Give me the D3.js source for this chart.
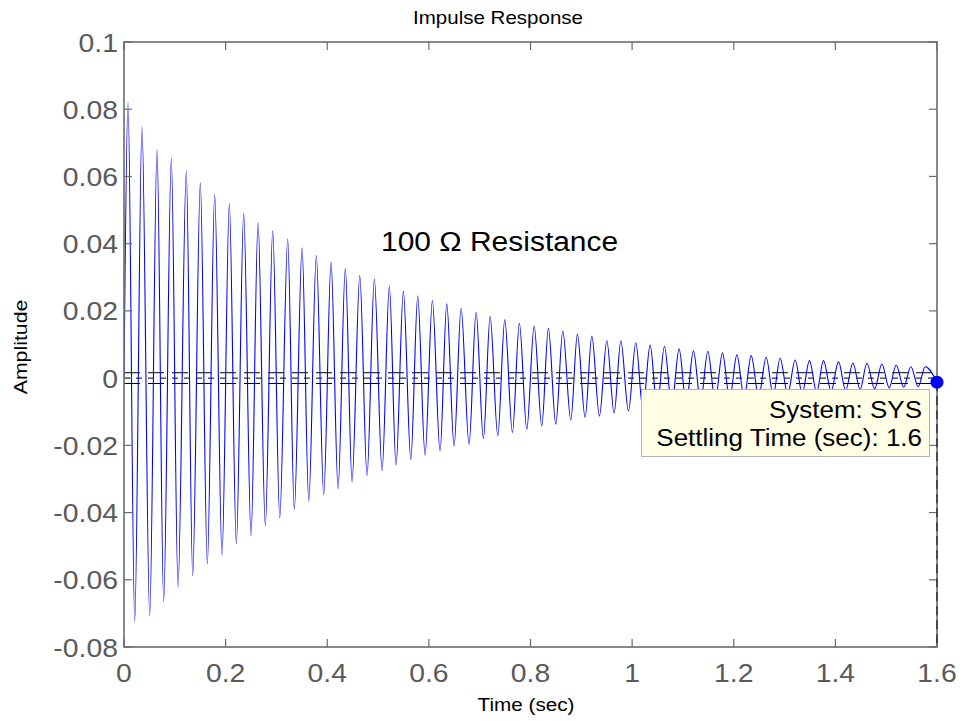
<!DOCTYPE html>
<html><head><meta charset="utf-8">
<script src="https://cdn.jsdelivr.net/npm/d3@7"></script>
<style>
body{margin:0;background:#fff}
text{font-family:Arial,"Liberation Sans",sans-serif}
</style>
</head><body>
<svg id="c" width="963" height="721"></svg>
<script>
// ---- data ----
const peakT = [0.0079,0.0354,0.0650,0.0931,0.1226,0.1502,0.1785,0.2073,0.2356,0.2638,
  0.2927,0.3222,0.3504,0.3785,0.4075,0.4356,0.4640,0.4927,0.5222,0.5498,
  0.5781,0.6069,0.6352,0.6634,0.6929,0.7205,0.7494,0.7781,0.8071,0.8352,
  0.8636,0.8923,0.9207,0.9502,0.9778,1.0073,1.0354,1.0636,1.0925,1.1207,
  1.1490,1.1778,1.2061,1.2343,1.2638,1.2913,1.3209,1.3490,1.3766,1.4061,
  1.4344,1.4620,1.4915,1.5197,1.5486,1.5768];
const peakV = [0.0820,0.0748,0.0679,0.0654,0.0616,0.0581,0.0546,0.0519,0.0490,0.0463,
  0.0438,0.0413,0.0388,0.0365,0.0345,0.0327,0.0305,0.0295,0.0273,0.0258,
  0.0244,0.0231,0.0221,0.0208,0.0196,0.0184,0.0174,0.0163,0.0155,0.0148,
  0.0140,0.0131,0.0125,0.0111,0.0111,0.0105,0.0098,0.0095,0.0087,0.0081,
  0.0080,0.0075,0.0069,0.0067,0.0062,0.0059,0.0054,0.0052,0.0052,0.0049,
  0.0045,0.0044,0.0042,0.0039,0.0034,0.0034];
const troughT = [0.0211,0.0506,0.0781,0.1063,0.1352,0.1640,0.1929,0.2211,0.2500,0.2781,
  0.3065,0.3352,0.3636,0.3931,0.4213,0.4488,0.4783,0.5079,0.5354,0.5644,
  0.5925,0.6220,0.6496,0.6791,0.7073,0.7356,0.7644,0.7927,0.8222,0.8498,
  0.8793,0.9075,0.9356,0.9646,0.9927,1.0211,1.0492,1.0778,1.1063,1.1348,
  1.1634,1.1919,1.2205,1.2490,1.2776,1.3061,1.3346,1.3632,1.3917,1.4203,
  1.4488,1.4774,1.5059,1.5344,1.5630];
const troughV = [-0.0724,-0.0707,-0.0665,-0.0622,-0.0588,-0.0553,-0.0527,-0.0493,-0.0469,-0.0439,
  -0.0416,-0.0391,-0.0366,-0.0346,-0.0329,-0.0309,-0.0290,-0.0275,-0.0259,-0.0242,
  -0.0229,-0.0217,-0.0202,-0.0197,-0.0180,-0.0172,-0.0162,-0.0152,-0.0142,-0.0137,
  -0.0124,-0.0117,-0.0113,-0.0104,-0.0098,-0.0092,-0.0086,-0.0081,-0.0076,-0.0071,
  -0.0067,-0.0062,-0.0058,-0.0055,-0.0051,-0.0048,-0.0045,-0.0042,-0.0039,-0.0037,
  -0.0034,-0.0032,-0.0029,-0.0027,-0.0025];
const startPoint = [0, 0];
const endPoint = [1.6, -0.0012];
const xTickValues = [0,0.2,0.4,0.6,0.8,1,1.2,1.4,1.6];
const xTickLabels = ["0","0.2","0.4","0.6","0.8","1","1.2","1.4","1.6"];
const yTickValues = [-0.08,-0.06,-0.04,-0.02,0,0.02,0.04,0.06,0.08,0.1];
const yTickLabels = ["-0.08","-0.06","-0.04","-0.02","0","0.02","0.04","0.06","0.08","0.1"];
const settleLevels = [0.0016, 0, -0.0016];
const settlingTime = 1.6;
const titleText = "Impulse Response";
const xLabel = "Time (sec)";
const yLabel = "Amplitude";
const annotation = "100 \u03A9 Resistance";
const tipLines = ["System: SYS", "Settling Time (sec): 1.6"];

// ---- drawing ----
const svg = d3.select("#c");
const L = 124, R = 937, T = 42, B = 647;
const x = d3.scaleLinear().domain([0, 1.6]).range([L, R]);
const y = d3.scaleLinear().domain([-0.08, 0.1]).range([B, T]);

svg.append("rect").attr("width", 963).attr("height", 721).attr("fill", "#fff");
svg.append("defs").append("clipPath").attr("id", "clip")
  .append("rect").attr("x", L).attr("y", T).attr("width", R - L).attr("height", B - T);

function txt(px, py, s, size, sx, anchor, color, rot) {
  const t = svg.append("text")
    .attr("transform", `translate(${px},${py})${rot ? " rotate(" + rot + ")" : ""} scale(${sx},1)`)
    .attr("text-anchor", anchor).attr("font-size", size).attr("fill", color).text(s);
  return t;
}

// series
const pts = [startPoint];
peakT.forEach((t, i) => pts.push([t, peakV[i]]));
troughT.forEach((t, i) => pts.push([t, troughV[i]]));
pts.push(endPoint);
pts.sort((a, b) => a[0] - b[0]);

const axisColor = "#6b6b6b";

const g = svg.append("g").attr("clip-path", "url(#clip)");
settleLevels.forEach((lv, i) => {
  g.append("line").attr("x1", L).attr("x2", R).attr("y1", y(lv)).attr("y2", y(lv))
    .attr("stroke", "#000").attr("stroke-width", 1)
    .attr("stroke-dasharray", i === 1 ? "6,6" : "16,8");
});

const line = d3.line().x(d => x(d[0])).y(d => y(d[1])).curve(d3.curveMonotoneX);
g.append("path").datum(pts).attr("d", line)
  .attr("fill", "none").attr("stroke", "#0000ff").attr("stroke-width", 1.1);

// axes box with inward ticks
const ax = svg.append("g");
ax.append("rect").attr("x", L).attr("y", T).attr("width", R - L).attr("height", B - T)
  .attr("fill", "none").attr("stroke", axisColor).attr("stroke-width", 1.6);
const tl = 8;
xTickValues.forEach(v => {
  ax.append("line").attr("x1", x(v)).attr("x2", x(v)).attr("y1", B).attr("y2", B - tl).attr("stroke", axisColor).attr("stroke-width", 1.2);
  ax.append("line").attr("x1", x(v)).attr("x2", x(v)).attr("y1", T).attr("y2", T + tl).attr("stroke", axisColor).attr("stroke-width", 1.2);
});
yTickValues.forEach(v => {
  ax.append("line").attr("x1", L).attr("x2", L + tl).attr("y1", y(v)).attr("y2", y(v)).attr("stroke", axisColor).attr("stroke-width", 1.2);
  ax.append("line").attr("x1", R).attr("x2", R - tl).attr("y1", y(v)).attr("y2", y(v)).attr("stroke", axisColor).attr("stroke-width", 1.2);
});

const tickColor = "#5a5a5a";
xTickValues.forEach((v, i) => txt(x(v), B + 35, xTickLabels[i], 26.5, 1.07, "middle", tickColor));
yTickValues.forEach((v, i) => txt(L - 6, y(v) + 9.5, yTickLabels[i], 26.5, 1.07, "end", tickColor));

// settling marker
svg.append("line").attr("x1", x(settlingTime)).attr("x2", x(settlingTime))
  .attr("y1", y(endPoint[1])).attr("y2", B)
  .attr("stroke", "#333").attr("stroke-width", 1.5).attr("stroke-dasharray", "9,5");

// data tip
svg.append("rect").attr("x", 641.5).attr("y", 389.5).attr("width", 288).attr("height", 67)
  .attr("fill", "#ffffe6").attr("stroke", "#b4b4b4").attr("stroke-width", 1);
tipLines.forEach((s, i) => txt(922, 418 + i * 28, s, 23, 1.13, "end", "#000"));
svg.append("circle").attr("cx", x(endPoint[0])).attr("cy", y(endPoint[1])).attr("r", 6.5)
  .attr("fill", "#0000ff");

// titles
txt(498, 24, titleText, 18, 1.14, "middle", "#000");
txt(526, 711, xLabel, 18.5, 1.12, "middle", "#000");
txt(27, 347, yLabel, 19, 1.12, "middle", "#000", -90);
txt(381, 251, annotation, 28, 1.07, "start", "#000");
</script>
</body></html>
